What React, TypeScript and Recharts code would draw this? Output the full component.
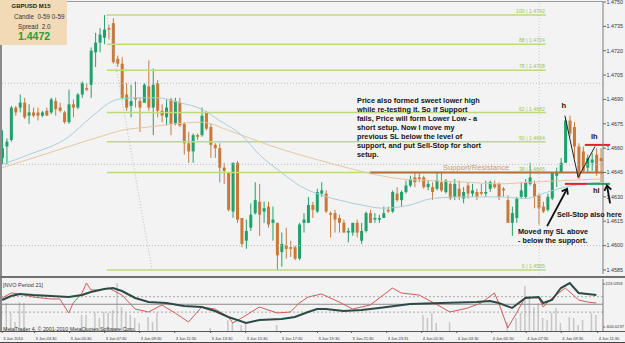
import React from "react";
import { Bar, ComposedChart, Line, ReferenceLine, XAxis, YAxis } from "recharts";

// GBPUSD M15 candles: [open, high, low, close]
const CANDLES: number[][] = [
  [1.4654, 1.4671, 1.465, 1.466], [1.4661, 1.4666, 1.465, 1.4664], [1.4665, 1.4686, 1.4664, 1.4685],
  [1.4685, 1.4686, 1.468, 1.4682], [1.4685, 1.4693, 1.4682, 1.4688], [1.4688, 1.4691, 1.4678, 1.4679],
  [1.468, 1.4687, 1.4675, 1.4682], [1.4682, 1.4685, 1.4679, 1.468], [1.4682, 1.4685, 1.4677, 1.468],
  [1.468, 1.4683, 1.4679, 1.4682], [1.4683, 1.4685, 1.468, 1.468], [1.4682, 1.4691, 1.4681, 1.469],
  [1.4689, 1.4691, 1.468, 1.4684], [1.4685, 1.4688, 1.4682, 1.4683], [1.4682, 1.4683, 1.4675, 1.4676],
  [1.4676, 1.4696, 1.4675, 1.4687], [1.4687, 1.469, 1.4679, 1.4685], [1.4685, 1.4694, 1.4684, 1.4693],
  [1.4693, 1.4701, 1.4691, 1.47], [1.4697, 1.47, 1.4695, 1.4696], [1.4699, 1.4722, 1.4691, 1.472],
  [1.4719, 1.4731, 1.471, 1.4725], [1.4725, 1.4734, 1.4719, 1.473], [1.4728, 1.4742, 1.4724, 1.4733],
  [1.4734, 1.4736, 1.4727, 1.4733], [1.4737, 1.474, 1.4712, 1.4713], [1.4715, 1.4717, 1.471, 1.4712],
  [1.4712, 1.4716, 1.469, 1.4691], [1.4693, 1.47, 1.4683, 1.4685], [1.4686, 1.4699, 1.4679, 1.4689],
  [1.4691, 1.4701, 1.4685, 1.469], [1.4689, 1.4691, 1.467, 1.4685], [1.4688, 1.47, 1.4688, 1.4699],
  [1.4698, 1.4714, 1.4683, 1.4685], [1.4685, 1.4709, 1.4668, 1.4699], [1.47, 1.4702, 1.4679, 1.4683],
  [1.4683, 1.4687, 1.4676, 1.468], [1.4679, 1.469, 1.4674, 1.4685], [1.469, 1.4691, 1.4668, 1.4675],
  [1.4675, 1.4691, 1.4674, 1.4689], [1.4688, 1.4691, 1.4673, 1.4674], [1.4675, 1.4676, 1.4656, 1.4663],
  [1.4663, 1.467, 1.4651, 1.4658], [1.4658, 1.4669, 1.4651, 1.4668], [1.4668, 1.4669, 1.4665, 1.4667],
  [1.4668, 1.4685, 1.4667, 1.468], [1.4682, 1.4683, 1.4671, 1.4672], [1.4673, 1.4675, 1.4654, 1.4662],
  [1.4662, 1.4663, 1.4654, 1.466], [1.466, 1.4663, 1.4639, 1.4648], [1.4648, 1.4651, 1.4638, 1.4646],
  [1.4645, 1.4645, 1.4621, 1.4622], [1.4621, 1.4651, 1.4617, 1.4651], [1.4651, 1.4652, 1.4614, 1.4616],
  [1.4617, 1.4617, 1.4599, 1.4601], [1.4603, 1.4616, 1.4598, 1.4609], [1.4611, 1.4626, 1.4609, 1.4619],
  [1.462, 1.4639, 1.4619, 1.4628], [1.4627, 1.4638, 1.4606, 1.4619], [1.4621, 1.4627, 1.4614, 1.4623],
  [1.4624, 1.4627, 1.4611, 1.4613], [1.4614, 1.4624, 1.4603, 1.4616], [1.4614, 1.4614, 1.4585, 1.4594],
  [1.4596, 1.4608, 1.4587, 1.4601], [1.46, 1.4611, 1.4592, 1.4598], [1.4599, 1.4603, 1.4593, 1.4598],
  [1.4599, 1.46, 1.4591, 1.4592], [1.4592, 1.4614, 1.4591, 1.4613], [1.4614, 1.462, 1.4608, 1.4616],
  [1.4614, 1.463, 1.4614, 1.4625], [1.4625, 1.4627, 1.4617, 1.4622], [1.4621, 1.4635, 1.462, 1.4633],
  [1.4632, 1.4639, 1.463, 1.4634], [1.4632, 1.4634, 1.462, 1.4621], [1.462, 1.4621, 1.4605, 1.4619],
  [1.462, 1.4622, 1.4608, 1.4616], [1.4617, 1.4619, 1.4608, 1.4614], [1.4614, 1.4616, 1.4608, 1.4608],
  [1.4608, 1.4611, 1.4602, 1.4609], [1.4608, 1.4614, 1.4606, 1.4614], [1.4614, 1.4616, 1.4605, 1.4608],
  [1.4603, 1.4614, 1.4601, 1.4609], [1.4609, 1.4621, 1.4608, 1.462], [1.462, 1.4622, 1.4614, 1.4614],
  [1.4616, 1.462, 1.4614, 1.4617], [1.4616, 1.4619, 1.4614, 1.4617], [1.4617, 1.4624, 1.4617, 1.462],
  [1.4622, 1.4624, 1.462, 1.4621], [1.4621, 1.4634, 1.462, 1.4633], [1.4632, 1.4636, 1.4627, 1.4628],
  [1.4628, 1.4634, 1.4624, 1.4633], [1.4633, 1.464, 1.4632, 1.4637], [1.4637, 1.4643, 1.4636, 1.4641],
  [1.4642, 1.4645, 1.4636, 1.4639], [1.4642, 1.4645, 1.4639, 1.4641], [1.4642, 1.4643, 1.4635, 1.4636],
  [1.4636, 1.464, 1.4634, 1.4638], [1.4636, 1.4639, 1.4628, 1.4633], [1.4635, 1.4645, 1.4634, 1.464],
  [1.4639, 1.4645, 1.4633, 1.4634], [1.4633, 1.4641, 1.4632, 1.464], [1.4638, 1.4639, 1.4628, 1.4629],
  [1.463, 1.4641, 1.4628, 1.4638], [1.4635, 1.464, 1.4628, 1.463], [1.4629, 1.4636, 1.4626, 1.4633],
  [1.4637, 1.4639, 1.4629, 1.4632], [1.4632, 1.4638, 1.463, 1.4634], [1.4633, 1.4635, 1.4628, 1.463],
  [1.4633, 1.4638, 1.4631, 1.4632], [1.4632, 1.464, 1.463, 1.4633], [1.4635, 1.464, 1.4633, 1.4639],
  [1.4638, 1.464, 1.4635, 1.4636], [1.4638, 1.4639, 1.4628, 1.463], [1.4635, 1.4636, 1.463, 1.4634],
  [1.4628, 1.4631, 1.4614, 1.4614], [1.4614, 1.4624, 1.4606, 1.462], [1.4617, 1.463, 1.4614, 1.4629],
  [1.463, 1.4639, 1.4629, 1.4634], [1.463, 1.4641, 1.4629, 1.4639], [1.4638, 1.4651, 1.4637, 1.4642],
  [1.4638, 1.464, 1.4623, 1.463], [1.4631, 1.4632, 1.4613, 1.4623], [1.4624, 1.4627, 1.462, 1.4621],
  [1.4622, 1.4632, 1.4621, 1.463], [1.4629, 1.4645, 1.4628, 1.4645], [1.4643, 1.4648, 1.4636, 1.4645],
  [1.4645, 1.4654, 1.4645, 1.4651], [1.4651, 1.4679, 1.4651, 1.4677], [1.4677, 1.468, 1.4667, 1.4669],
  [1.4673, 1.4676, 1.4654, 1.4661], [1.4661, 1.4663, 1.4641, 1.4642], [1.4658, 1.4661, 1.4645, 1.4646],
  [1.4648, 1.4656, 1.4645, 1.4654], [1.4651, 1.4657, 1.4646, 1.4653], [1.4656, 1.466, 1.4643, 1.4645],
  [1.4654, 1.466, 1.4639, 1.4652],
];

// moving averages: [bar index, price]
const MA_FAST = [
  [0, 1.465], [6, 1.4656], [15, 1.4667], [20, 1.4679], [26, 1.469], [30, 1.4691], [35, 1.4691],
  [40, 1.4688], [45, 1.4684], [49, 1.4677], [54, 1.4668], [58, 1.4656], [63, 1.4645], [67, 1.4637],
  [72, 1.4631], [76, 1.4628], [81, 1.4625], [86, 1.4623], [92, 1.4625], [97, 1.4629], [105, 1.463],
  [112, 1.463], [118, 1.4629], [123, 1.4633], [127, 1.4636], [135, 1.4639],
];
const MA_SLOW = [
  [0, 1.4648], [7, 1.4654], [15, 1.4661], [22, 1.4667], [27, 1.4671], [33, 1.4673], [39, 1.4675],
  [45, 1.4676], [51, 1.4671], [60, 1.4662], [67, 1.4656], [75, 1.465], [82, 1.4645], [90, 1.4641],
  [97, 1.464], [105, 1.4639], [112, 1.4638], [119, 1.4639], [126, 1.464], [135, 1.4641],
];

// NVO Period 21 panel: [bar index, value]
const NVO_MAIN = [
  [0, -83], [2, -7], [4, 32], [7, 12], [11, -7], [15, -26], [18, 12], [20, 70], [23, 127], [25, 146],
  [27, 89], [30, -45], [33, -122], [37, -141], [41, -198], [45, -217], [48, -294], [51, -409],
  [55, -523], [58, -466], [63, -447], [66, -409], [69, -313], [71, -256], [73, -256], [77, -294],
  [81, -275], [85, -236], [92, -160], [99, -141], [107, -122], [110, -102], [112, -141], [115, -236],
  [118, -45], [121, -26], [122, -141], [124, -83], [126, 146], [128, 242], [130, 51], [132, 32], [134, 12],
];
const NVO_SIGNAL = [
  [0, -45], [2, 51], [4, 32], [7, -26], [11, -64], [13, -64], [15, -332], [16, -141], [18, 51],
  [19, 242], [20, 108], [22, 108], [24, 146], [27, 12], [30, -256], [33, -313], [36, -179], [39, -332],
  [42, -504], [45, -217], [48, -256], [51, -409], [52, -523], [54, -428], [58, -217], [62, -332],
  [65, -313], [67, -141], [69, -26], [72, 32], [76, -122], [79, -256], [83, -179], [88, 146], [90, 51],
  [94, 12], [97, -122], [101, -313], [105, -236], [108, -141], [111, 51], [112, -141], [114, -619],
  [116, -332], [118, -26], [121, -45], [122, -217], [124, -45], [127, 146], [130, -83], [132, -122],
  [134, -141],
];
const NVO_BARS = [
  [1, 28], [2, 18], [3, 9], [4, 29], [5, 28], [18, 16], [19, 16], [21, 18], [22, 13], [23, 19],
  [24, 18], [25, 21], [26, 48], [27, 24], [28, 18], [29, 16], [30, 13], [31, 8], [33, 14], [34, 9],
  [35, 18], [47, 3], [51, 11], [52, 8], [54, 6], [55, 8], [62, 6], [95, 16], [96, 13], [97, 18],
  [98, 8], [101, 9], [114, 9], [116, 13], [117, 18], [118, 45], [119, 35], [120, 24], [121, 28],
  [122, 13], [123, 11], [124, 18], [125, 23], [126, 8], [128, 14], [129, 13], [130, 6], [131, 11],
  [133, 18], [134, 16],
];

const PRICE_TICKS = [1.4585, 1.46, 1.4615, 1.463, 1.4645, 1.466, 1.4675, 1.469, 1.4705, 1.472, 1.4735, 1.475];
const PRICE_GRID = [1.46, 1.465, 1.47];
const FIB_NAMES = ["100", "88", "78", "62", "50", "38", "0"];
const FIB_PRICES = [1.4742, 1.4724, 1.4708, 1.4682, 1.4664, 1.4645, 1.4585];
const NVO_TICKS = [223.0359, -600.0237];
const NVO_LEVELS = [-20, -165, -315];
const TIME_TICKS = [0, 7.3, 15.2, 23.1, 31, 38.9, 47, 54.9, 62.8, 71.1, 78.8, 86.7, 94.6, 102.5, 110.4, 118.2, 126.1, 134.3];
const TIME_LABELS = [
  "3 Jun 2010", "3 Jun 03:30", "3 Jun 05:30", "3 Jun 07:30", "3 Jun 09:30", "3 Jun 11:30",
  "3 Jun 13:30", "3 Jun 15:30", "3 Jun 17:30", "3 Jun 19:30", "3 Jun 21:30", "3 Jun 23:31",
  "4 Jun 01:30", "4 Jun 03:30", "4 Jun 05:30", "4 Jun 07:30", "4 Jun 09:30", "4 Jun 11:30",
];
const NOTE_LINES = [
  "Price also formed sweet lower high",
  "while re-testing it. So if Support",
  "fails, Price will form Lower Low - a",
  "short setup. Now I move my",
  "previous SL below the level of",
  "support, and put Sell-Stop for short",
  "setup.",
];
const SL_LINES = ["Moved my SL above", "- below the support."];

const BULL = "#22a06b";
const BEAR = "#c8793a";
const FIB = "#bcdb78";
const FIB_TEXT = "#9cc25a";
const BG = "#f3f3f3";
const X_DOMAIN: [number, number] = [-0.5, CANDLES.length - 0.5];

const toMap = (pairs: number[][]) => new Map(pairs.map(([i, v]) => [i, v]));
const fastMap = toMap(MA_FAST);
const slowMap = toMap(MA_SLOW);
const mainMap = toMap(NVO_MAIN);
const signalMap = toMap(NVO_SIGNAL);
const volMap = toMap(NVO_BARS);

const priceRows = CANDLES.map(([o, h, l, c], i) => ({
  i, o, h, l, c,
  range: [l, h],
  fast: fastMap.get(i) ?? null,
  slow: slowMap.get(i) ?? null,
}));

const nvoRows = CANDLES.map((_, i) => ({
  i,
  vol: volMap.get(i) ?? null,
  main: mainMap.get(i) ?? null,
  signal: signalMap.get(i) ?? null,
}));

function Candle(props: any) {
  const { x, y, width, height, payload } = props;
  if (x == null || y == null || !payload) return null;
  const { o, h, l, c } = payload;
  const top = Math.min(y, y + height);
  const span = Math.abs(height);
  const k = h > l ? span / (h - l) : 0;
  const yo = top + (h - o) * k;
  const yc = top + (h - c) * k;
  const color = c >= o ? BULL : BEAR;
  const mid = x + width / 2;
  return (
    <g>
      <line x1={mid} x2={mid} y1={top} y2={top + span} stroke={color} strokeWidth={1} />
      <rect x={x} y={Math.min(yo, yc)} width={width} height={Math.max(1, Math.abs(yo - yc))} fill={color} />
    </g>
  );
}

const fibShape = (text: string) => (p: any) => (
  <g>
    <line x1={p.x1} y1={p.y1} x2={p.x2} y2={p.y2} stroke={FIB} strokeWidth={1.5} />
    <text x={p.x2 - 1} y={p.y1 - 1.8} textAnchor="end" fontSize={5.2} fill={FIB_TEXT}>
      {text}
    </text>
  </g>
);

const arrowShape = (p: any) => {
  const ang = Math.atan2(p.y2 - p.y1, p.x2 - p.x1);
  const a1 = ang + Math.PI * 0.8;
  const a2 = ang - Math.PI * 0.8;
  const len = 6;
  const pts = `${p.x2 + len * Math.cos(a1)},${p.y2 + len * Math.sin(a1)} ${p.x2},${p.y2} ${p.x2 + len * Math.cos(a2)},${p.y2 + len * Math.sin(a2)}`;
  return (
    <g>
      <line x1={p.x1} y1={p.y1} x2={p.x2} y2={p.y2} stroke="#111" strokeWidth={1.8} />
      <polyline points={pts} fill="none" stroke="#111" strokeWidth={1.8} />
    </g>
  );
};

function TimeTick(props: any) {
  const { x, y, payload } = props;
  const idx = TIME_TICKS.indexOf(payload.value);
  return (
    <text x={x + 1} y={y + 6.5} fontSize={4} fill="#333" textAnchor="start">
      {TIME_LABELS[idx]}
    </text>
  );
}

const abs = (extra: React.CSSProperties): React.CSSProperties => ({
  position: "absolute",
  whiteSpace: "pre",
  margin: 0,
  ...extra,
});

export default function App() {
  return (
    <div
      style={{
        position: "absolute",
        left: 0,
        top: 0,
        width: 625,
        height: 343,
        background: BG,
        overflow: "hidden",
        fontFamily: "'Liberation Sans', Arial, sans-serif",
      }}
    >
      <div style={{ position: "absolute", left: 0, top: 0 }}>
        <ComposedChart width={625} height={275} data={priceRows} margin={{ top: 2, right: 0, bottom: 1, left: 0 }}>
          <XAxis dataKey="i" type="number" domain={X_DOMAIN} allowDataOverflow hide />
          <YAxis
            orientation="right"
            width={22}
            domain={[1.45825, 1.475]}
            allowDataOverflow
            ticks={PRICE_TICKS}
            interval={0}
            tickFormatter={(v: number) => v.toFixed(4)}
            tick={{ fontSize: 5.4, fill: "#333" }}
            tickSize={3}
            tickMargin={0.5}
            axisLine={{ stroke: "#7a7a7a" }}
            tickLine={{ stroke: "#666" }}
          />
          {PRICE_GRID.map((p) => (
            <ReferenceLine key={p} y={p} stroke="#bdbdbd" strokeDasharray="1 2" />
          ))}
          <ReferenceLine x={121.1} stroke="#c9c9c9" strokeDasharray="1 2" ifOverflow="visible" />
          <ReferenceLine
            segment={[{ x: 23.6, y: 1.4742 }, { x: 33.8, y: 1.4585 }]}
            stroke="#bdbdbd"
            strokeDasharray="1 2"
            ifOverflow="visible"
          />
          {FIB_PRICES.map((p, k) => (
            <ReferenceLine
              key={p}
              segment={[{ x: 23.6, y: p }, { x: 122.6, y: p }]}
              shape={fibShape(`${FIB_NAMES[k]} | ${p.toFixed(4)}`)}
              ifOverflow="visible"
            />
          ))}
          <Line dataKey="slow" type="monotone" stroke="#e2c9a3" strokeWidth={1} dot={false} connectNulls isAnimationActive={false} />
          <Line dataKey="fast" type="monotone" stroke="#a9ced9" strokeWidth={1} dot={false} connectNulls isAnimationActive={false} />
          <ReferenceLine
            segment={[{ x: 83, y: 1.4645 }, { x: 135.5, y: 1.4645 }]}
            stroke="#b5703f"
            strokeWidth={2}
            ifOverflow="visible"
          />
          <Bar dataKey="range" barSize={3} shape={Candle} isAnimationActive={false} />
          <ReferenceLine segment={[{ x: 126.9, y: 1.468 }, { x: 129.9, y: 1.4642 }]} stroke="#222" strokeWidth={1} ifOverflow="visible" />
          <ReferenceLine segment={[{ x: 129.9, y: 1.4642 }, { x: 133.7, y: 1.4661 }]} stroke="#222" strokeWidth={1} ifOverflow="visible" />
          <ReferenceLine segment={[{ x: 131.4, y: 1.4662 }, { x: 137.1, y: 1.4662 }]} stroke="#e0202a" strokeWidth={2} ifOverflow="visible" />
          <ReferenceLine segment={[{ x: 126.9, y: 1.4638 }, { x: 131.9, y: 1.4638 }]} stroke="#e0202a" strokeWidth={2} ifOverflow="visible" />
          <ReferenceLine segment={[{ x: 131.9, y: 1.4638 }, { x: 137.1, y: 1.4638 }]} stroke="#27a05a" strokeWidth={2} ifOverflow="visible" />
          <ReferenceLine segment={[{ x: 122.9, y: 1.4612 }, { x: 127.4, y: 1.4635 }]} shape={arrowShape} ifOverflow="visible" />
          <ReferenceLine segment={[{ x: 137.1, y: 1.4626 }, { x: 136.4, y: 1.4637 }]} shape={arrowShape} ifOverflow="visible" />
        </ComposedChart>
      </div>

      <div style={{ position: "absolute", left: 0, top: 279 }}>
        <ComposedChart width={625} height={64} data={nvoRows} margin={{ top: 0, right: 0, bottom: 0, left: 0 }}>
          <XAxis
            dataKey="i"
            type="number"
            domain={X_DOMAIN}
            allowDataOverflow
            ticks={TIME_TICKS}
            interval={0}
            height={12}
            tick={<TimeTick />}
            tickSize={2}
            tickMargin={0}
            axisLine={false}
            tickLine={{ stroke: "#555" }}
          />
          <YAxis
            yAxisId="nvo"
            orientation="right"
            width={22}
            domain={[-676.6, 318.7]}
            allowDataOverflow
            ticks={NVO_TICKS}
            interval={0}
            tickFormatter={(v: number) => v.toFixed(4)}
            tick={{ fontSize: 4.1, fill: "#333" }}
            tickSize={2}
            tickMargin={0.5}
            axisLine={{ stroke: "#7a7a7a" }}
            tickLine={{ stroke: "#666" }}
          />
          <YAxis yAxisId="vol" hide domain={[0, 52]} allowDataOverflow />
          {NVO_LEVELS.map((v, k) => (
            <ReferenceLine
              key={v}
              yAxisId="nvo"
              y={v}
              stroke={k === 1 ? "#8c8c8c" : "#a8a8a8"}
              strokeDasharray={k === 1 ? undefined : "2 2"}
            />
          ))}
          <Bar yAxisId="vol" dataKey="vol" fill="#c6c6c6" barSize={1.5} isAnimationActive={false} />
          <Line yAxisId="nvo" dataKey="signal" type="linear" stroke="#cf5b5b" strokeWidth={1} dot={false} connectNulls isAnimationActive={false} />
          <Line yAxisId="nvo" dataKey="main" type="linear" stroke="#2c4b46" strokeWidth={2} dot={false} connectNulls isAnimationActive={false} />
        </ComposedChart>
      </div>

      {/* frame */}
      <div style={{ position: "absolute", left: 0, top: 0, width: 1.5, height: 332, background: "#8a8a8a" }} />
      <div style={{ position: "absolute", left: 0, top: 1, width: 603, height: 1, background: "#9a9a9a" }} />
      <div style={{ position: "absolute", left: 0, top: 276, width: 625, height: 2, background: "#707070" }} />
      <div style={{ position: "absolute", left: 0, top: 331, width: 625, height: 1, background: "#555" }} />
      <div style={{ position: "absolute", left: 0, top: 342, width: 625, height: 1, background: "#444" }} />

      {/* info box */}
      <div style={{ position: "absolute", left: 0, top: 0, width: 67, height: 45, background: "#f2dab6" }} />
      <div style={abs({ left: 11.5, top: 1.5, fontSize: 6, fontWeight: "bold", lineHeight: "9px", color: "#222" })}>GBPUSD M15</div>
      <div style={abs({ left: 14, top: 12, fontSize: 6.3, lineHeight: "9px", color: "#333" })}>Candle  0-59 0-59</div>
      <div style={abs({ left: 18, top: 21.5, fontSize: 6.3, lineHeight: "9px", color: "#333" })}>Spread  2.0</div>
      <div style={abs({ left: 18, top: 30, fontSize: 10.5, fontWeight: "bold", lineHeight: "12px", color: "#22a03a" })}>1.4472</div>

      {/* annotations */}
      <div style={abs({ left: 357, top: 95.5, fontSize: 7.35, fontWeight: "bold", lineHeight: "9px", color: "#141414" })}>
        {NOTE_LINES.join("\n")}
      </div>
      <div style={abs({ left: 443, top: 163, fontSize: 7.6, lineHeight: "9px", color: "#c99a72" })}>Support/Resistance</div>
      <div style={abs({ left: 561.5, top: 100.5, fontSize: 7.5, fontWeight: "bold", lineHeight: "9px", color: "#111" })}>h</div>
      <div style={abs({ left: 591, top: 132, fontSize: 7.5, fontWeight: "bold", lineHeight: "9px", color: "#111" })}>lh</div>
      <div style={abs({ left: 593, top: 186, fontSize: 7.5, fontWeight: "bold", lineHeight: "9px", color: "#111" })}>hl</div>
      <div style={abs({ left: 557, top: 209.5, fontSize: 7.2, fontWeight: "bold", lineHeight: "9px", color: "#111" })}>Sell-Stop also here</div>
      <div style={abs({ left: 518, top: 228, fontSize: 7.3, fontWeight: "bold", lineHeight: "8.6px", color: "#111" })}>
        {SL_LINES.join("\n")}
      </div>

      {/* indicator panel texts */}
      <div style={abs({ left: 3, top: 281, fontSize: 5.5, lineHeight: "8px", color: "#333" })}>[NVO Period 21]</div>
      <div style={abs({ left: 3, top: 325.3, fontSize: 5.3, lineHeight: "8px", color: "#333" })}>
        MetaTrader 4, © 2001-2010 MetaQuotes Software Corp.
      </div>
    </div>
  );
}
